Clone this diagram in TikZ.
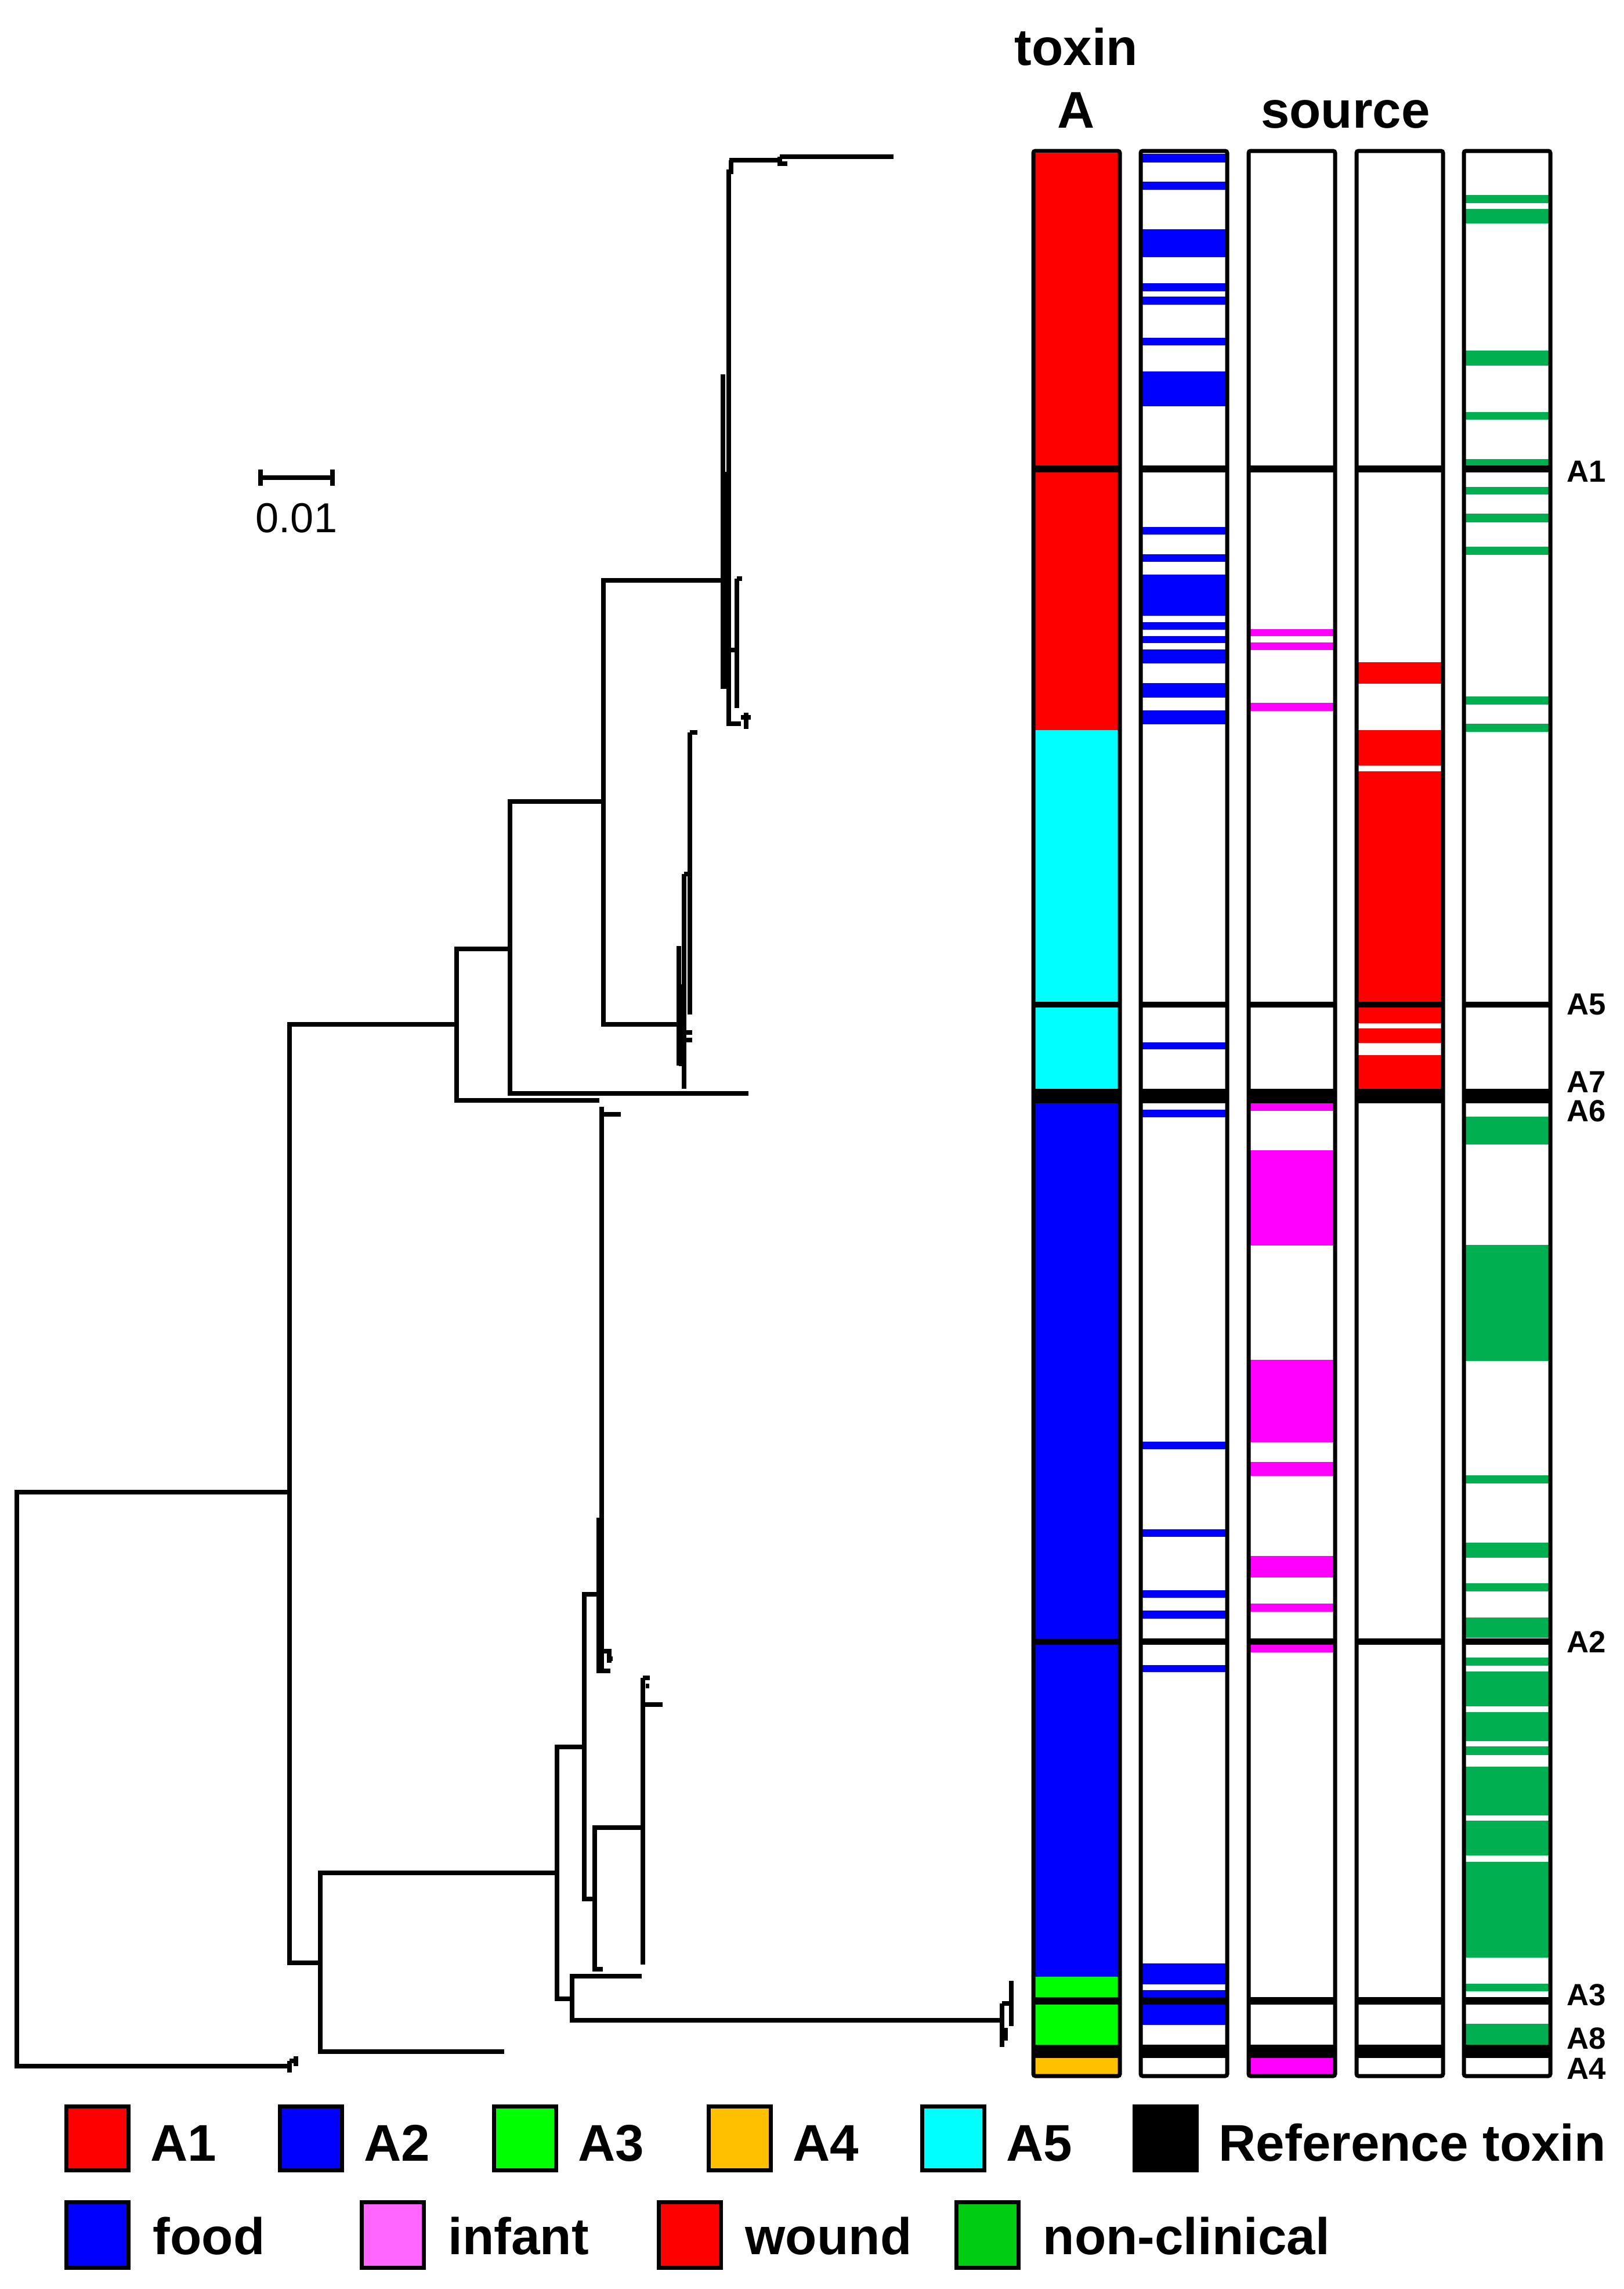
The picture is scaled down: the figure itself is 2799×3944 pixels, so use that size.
\documentclass[tikz,border=0pt]{standalone}
\usepackage{fontspec}
\setmainfont{Liberation Sans}
\definecolor{tA1}{HTML}{FF0000}
\definecolor{tA2}{HTML}{0000FF}
\definecolor{tA3}{HTML}{00FF00}
\definecolor{tA4}{HTML}{FFC000}
\definecolor{tA5}{HTML}{00FFFF}
\definecolor{sinfant}{HTML}{FF00FF}
\definecolor{snonclin}{HTML}{00B050}
\definecolor{linfant}{HTML}{FF66FF}
\definecolor{lnonclin}{HTML}{00CC11}
\def\fork(#1)(#2,#3)(#4,#5){\draw[tree] (#2,#3) -| (#1,#5) -- (#4,#5);}

\begin{document}
\begin{tikzpicture}[x=0.01cm, y=-0.01cm,
		tree/.style={line width=0.072cm},
		strip/.style={line width=0.07cm, rounded corners=1pt},
		swatch/.style={line width=0.07cm},
		head/.style={font=\fontsize{25.3}{30}\selectfont\bfseries, inner sep=0pt, anchor=base},
		legtext/.style={font=\fontsize{25.3}{30}\selectfont\bfseries, inner sep=0pt, anchor=base west},
		rlab/.style={font=\fontsize{15}{18}\selectfont\bfseries, inner sep=0pt, anchor=west}]
		%%%%% START %%%%%
		\useasboundingbox (0,0) rectangle (2799,3944);
		
		% tree backbone
		\fork(29)(499,2571)(499,3560);
		\fork(499)(787,1765)(552,3382);
		\fork(787)(879,1635)(1033,1896);
		\fork(879)(1040,1381)(1290,1884);
		\fork(1040)(1246,1000)(1170,1765);
		\fork(552)(960,3227)(869,3535);
		\fork(960)(1007,3010)(986,3444);
		\fork(1007)(1032,2747)(1025,3272);
		\fork(1025)(1108,3149)(1039,3393);
		\fork(986)(1106,3405)(1727,3481);
		
		% A1 clade
		\draw[tree] (1246,645) -- (1246,1187);
		\draw[tree] (1250,813) -- (1250,1187);
		\draw[tree] (1256,292) -- (1256,1247) -- (1277,1247);
		\draw[tree] (1260,276) -- (1260,300);
		\draw[tree] (1257,276) -- (1344,276);
		\draw[tree] (1344,270) -- (1344,282) -- (1357,282);
		\draw[tree] (1344,270) -- (1540,270);
		\draw[tree] (1256,1120) -- (1270,1120);
		\draw[tree] (1270,997) -- (1270,1220);
		\draw[tree] (1270,997) -- (1279,997);
		\draw[tree] (1277,1236) -- (1294,1236);
		\draw[tree] (1286,1228) -- (1286,1256);
		
		% A5 clade
		\draw[tree] (1170,1630) -- (1170,1836);
		\draw[tree] (1174,1696) -- (1174,1837);
		\draw[tree] (1179,1506) -- (1179,1876);
		\draw[tree] (1179,1506) -- (1189,1506);
		\draw[tree] (1189,1262) -- (1189,1748);
		\draw[tree] (1189,1262) -- (1202,1262);
		\draw[tree] (1170,1779) -- (1193,1779);
		\draw[tree] (1183,1792) -- (1193,1792);
		
		% A2 clades
		\draw[tree] (1037,1907) -- (1037,2879);
		\draw[tree] (1037,1920) -- (1070,1920);
		\draw[tree] (1032,2615) -- (1032,2879) -- (1052,2879);
		\draw[tree] (1040,2845) -- (1050,2845) -- (1050,2865);
		\draw[tree] (1046,2858) -- (1056,2858);
		\draw[tree] (1108,2891) -- (1108,3385);
		\draw[tree] (1108,2891) -- (1120,2891);
		\draw[tree] (1108,2937) -- (1142,2937);
		\draw[tree] (1113,2905) -- (1119,2905);
		
		% A3 clade and outgroup
		\draw[tree] (1727,3452) -- (1727,3527);
		\draw[tree] (1727,3452) -- (1743,3452);
		\draw[tree] (1743,3413) -- (1743,3491);
		\draw[tree] (1733,3494) -- (1733,3516);
		\draw[tree] (499,3551) -- (499,3571);
		\draw[tree] (499,3551) -- (510,3551);
		\draw[tree] (510,3543) -- (510,3560);
		
		% scale
		\draw[tree] (449,823) -- (573,823);
		\draw[tree] (449,809) -- (449,837);
		\draw[tree] (573,809) -- (573,837);
		\node[font=\fontsize{20.5}{24}\selectfont, inner sep=0pt, anchor=base] (scale) at (511,917) {0.01};
		
		% toxin A column
		\fill[tA1] (1781,264) rectangle (1930,1258);
		\fill[tA5] (1781,1258) rectangle (1930,1876);
		\fill[tA2] (1781,1876) rectangle (1930,3406);
		\fill[tA3] (1781,3406) rectangle (1930,3523);
		\fill[tA4] (1781,3523) rectangle (1930,3574);
		
		% source columns
		\foreach \a/\b in {265/280,313/327,395/443,488/502,511/525,582/595,640/700,908/921,955/968,990/1061,1072/1085,1096/1108,1119/1143,1177/1202,1224/1248,1796/1808,1912/1925,2484/2497,2635/2648,2740/2753,2775/2789,2869/2881,3383/3419,3429/3441,3454/3489}
			\fill[tA2] (1966,\a) rectangle (2115,\b);
		\foreach \a/\b in {1084/1096,1107/1120,1211/1225,1901/1914,1982/2146,2343/2485,2519/2543,2681/2718,2763/2777,2834/2847,3546/3574}
			\fill[sinfant] (2152,\a) rectangle (2301,\b);
		\foreach \a/\b in {1141/1178,1258/1319,1329/1726,1736/1763,1772/1797,1818/1876}
			\fill[tA1] (2338,\a) rectangle (2487,\b);
		\foreach \a/\b in {336/350,360/385,604/630,710/723,791/802,839/852,885/900,942/956,1200/1214,1247/1261,1924/1972,2145/2345,2542/2556,2658/2684,2728/2742,2787/2822,2856/2870,2880/2940,2950/3000,3009/3024,3044/3128,3137/3197,3208/3373,3418/3431,3487/3523}
			\fill[snonclin] (2523,\a) rectangle (2672,\b);
		
		% reference toxins
		\foreach \c in {1781,1966,2152,2338,2523}
			\foreach \a/\b in {802/814,1726/1736,1876/1901,2823/2834,3441/3454,3523/3546}
				\fill[black] (\c,\a) rectangle (\c+149,\b);
		\foreach \c in {1781,1966,2152,2338,2523}
			\draw[strip] (\c,260) rectangle (\c+149,3577);
		
		\node[head] (toxin) at (1855,112) {toxin};
		\node[head] (toxinA) at (1855,220) {A};
		\node[head] (source) at (2319,220) {source};
		
		\node[rlab] (labA1) at (2700,812) {A1};
		\node[rlab] (labA5) at (2700,1731) {A5};
		\node[rlab] (labA7) at (2700,1864) {A7};
		\node[rlab] (labA6) at (2700,1914) {A6};
		\node[rlab] (labA2) at (2700,2829) {A2};
		\node[rlab] (labA3) at (2700,3437) {A3};
		\node[rlab] (labA8) at (2700,3512) {A8};
		\node[rlab] (labA4) at (2700,3564) {A4};
		
		% legend
		\foreach \x/\col/\nm/\txt in {111/tA1/A1/A1,479/tA2/A2/A2,848/tA3/A3/A3,1218/tA4/A4/A4,1586/tA5/A5/A5,1952/black/ref/Reference toxin} {
			\draw[swatch, fill=\col] (\x+3.5,3629.5) rectangle (\x+110.5,3739.5);
			\node[legtext] (leg\nm) at (\x+148,3723) {\txt};
		}
		\foreach \x/\col/\nm/\txt in {111/tA2/food/food,620/linfant/infant/infant,1132/tA1/wound/wound,1645/lnonclin/nonclin/non-clinical} {
			\draw[swatch, fill=\col] (\x+3.5,3794.5) rectangle (\x+110.5,3907.5);
			\node[legtext] (leg\nm) at (\x+152,3884) {\txt};
		}
		%%%%% END %%%%%
\end{tikzpicture}
\end{document}
